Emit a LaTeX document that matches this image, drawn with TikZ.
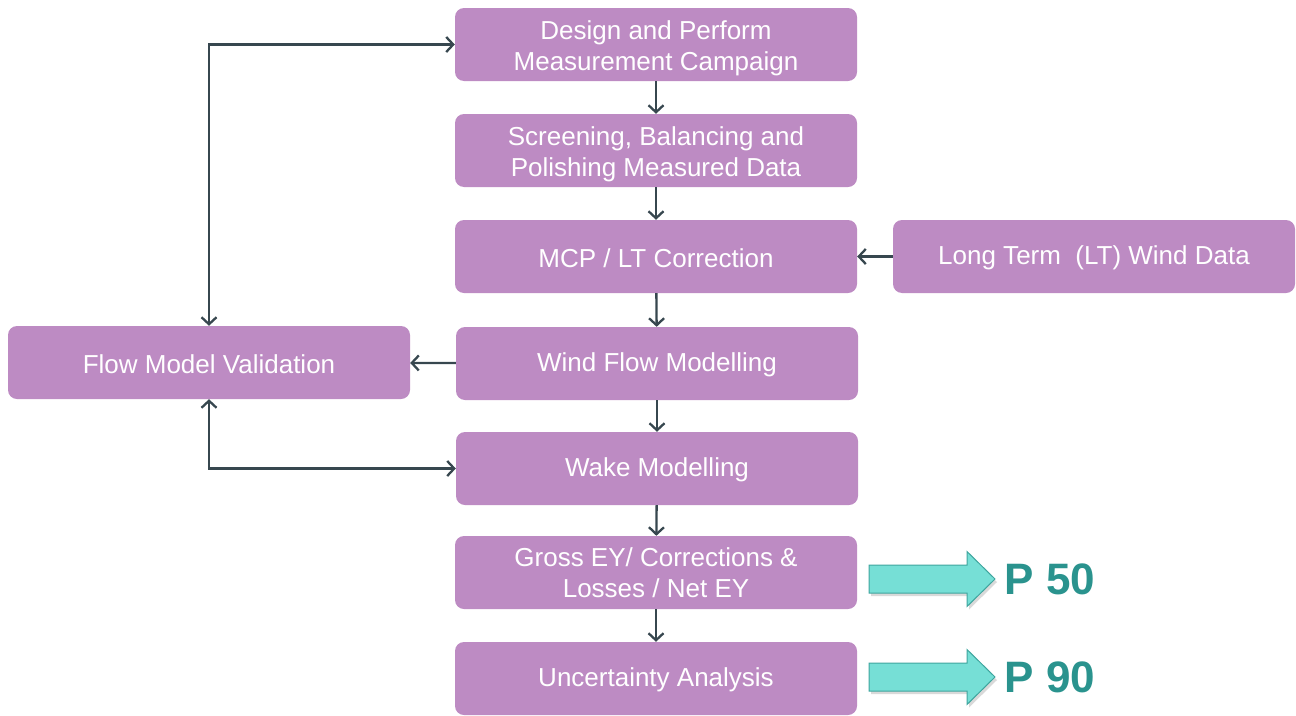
\documentclass[tikz,border=0pt]{standalone}
\usepackage{fontspec}
\setmainfont{Liberation Sans}
\usetikzlibrary{positioning,arrows.meta,calc}

\definecolor{stepfill}{HTML}{BD8BC3}
\definecolor{linkgray}{HTML}{37474F}
\definecolor{tealfill}{HTML}{76DFD6}
\definecolor{tealdraw}{HTML}{3FA59E}
\definecolor{tealtext}{HTML}{2A938E}
\newcommand{\lowtext}{\rule{0pt}{26pt}}

\begin{document}
\begin{tikzpicture}[
  x=1pt,y=-1pt,
  font=\fontsize{26}{31}\selectfont,
  stepbox/.style={fill=stepfill,text=white,rounded corners=9pt,
    minimum width=402pt,minimum height=73pt,align=center,inner sep=0pt},
  oneline/.style={stepbox,execute at begin node={\rule{0pt}{22pt}}},
  link/.style={draw=linkgray,line width=2.3pt,
    -{Straight Barb[length=7pt,width=15pt,line width=2.3pt]}},
  twolink/.style={link,{Straight Barb[length=7pt,width=15pt,line width=2.3pt]}-{Straight Barb[length=7pt,width=15pt,line width=2.3pt]}},
  pblock/.style={fill=tealfill,draw=tealdraw,line width=1pt},
  plabel/.style={anchor=west,text=tealtext,font=\fontsize{44}{50}\selectfont\bfseries}
]
\useasboundingbox (0,0) rectangle (1296,715);
% main chain of steps
\node[stepbox] (design) at (656,44.5) {\lowtext Design and Perform\\Measurement Campaign};
\node[stepbox] (screen) at (656,150.5) {\lowtext Screening, Balancing and\\Polishing Measured Data};
\node[oneline] (mcp)    at (656,256.5) {MCP / LT Correction};
\node[oneline] (flow)   at (657,363.5) {Wind Flow Modelling};
\node[oneline] (wake)   at (657,468.5) {Wake Modelling};
\node[stepbox] (gross)  at (656,572.5) {Gross EY/ Corrections \&\\Losses / Net EY};
\node[oneline] (unc)    at (656,678.5) {Uncertainty Analysis};
\node[oneline] (ltdata) at (1094,256.5) {Long Term\ \ (LT) Wind Data};
\node[oneline] (valid)  at (209,362.5) {Flow Model Validation};

\draw[link] (design) -- (screen);
\draw[link] (screen) -- (mcp);
\draw[link] (mcp) -- (flow);
\draw[link] (flow) -- (wake);
\draw[link] (wake) -- (gross);
\draw[link] (gross) -- (unc);
\draw[link] (ltdata) -- (mcp);
\draw[link] (flow) -- (valid);
\draw[twolink] (valid.north) |- (design.west);
\draw[twolink] (valid.south) |- (wake.west);

% result arrows
\foreach \yc/\pval/\pname in {579/50/pfifty,677/90/pninety} {
  \fill[black,opacity=.15,shift={(2,3)}]
    (869,\yc-14) -- (967,\yc-14) -- (967,\yc-27.5) -- (995,\yc)
    -- (967,\yc+27.5) -- (967,\yc+14) -- (869,\yc+14) -- cycle;
  \filldraw[pblock]
    (869,\yc-14) -- (967,\yc-14) -- (967,\yc-27.5) -- (995,\yc)
    -- (967,\yc+27.5) -- (967,\yc+14) -- (869,\yc+14) -- cycle;
  \node[plabel] (\pname) at (1001,\yc) {P \pval};
}
\end{tikzpicture}
\end{document}
